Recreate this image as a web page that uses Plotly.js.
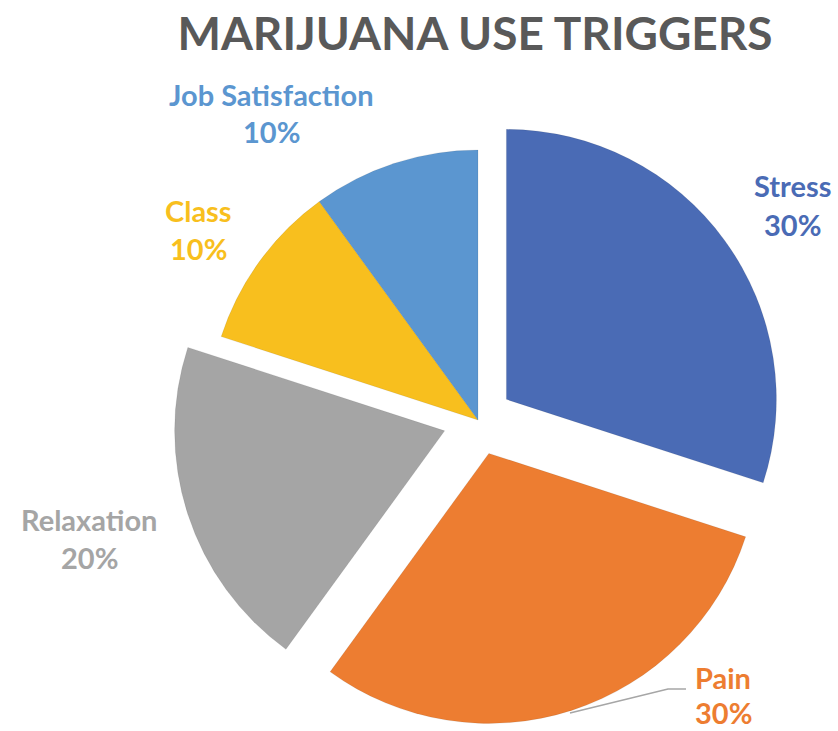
<!DOCTYPE html>
<html>
<head>
<meta charset="utf-8">
<script src="https://cdn.plot.ly/plotly-3.0.1.min.js"></script>
<style>html,body{margin:0;padding:0;background:#fff;}#chart{width:838px;height:731px;}</style>
</head>
<body>
<div id="chart"></div>
<script>
// Data
var categories = ["Stress", "Pain", "Relaxation", "Class", "Job Satisfaction"];
var values = [30, 30, 20, 10, 10];
var sliceColors = ["#4A6BB5", "#ED7D31", "#A5A5A5", "#F8BF1E", "#5B96D0"];
var labelColors = ["#4A6BB5", "#ED7D31", "#A5A5A5", "#F8BF1E", "#5B96D0"];
var pulls = [0.13, 0.13, 0.13, 0, 0];

// Layout helpers (pixel -> paper)
var W = 838, H = 731;
function px(x) { return x / W; }
function py(y) { return 1 - y / H; }

// Label centre positions in pixels: [x, name line y, percent line y]
var labelPos = [[792, 186, 224], [723, 677, 712], [89, 519, 557], [198, 210, 248], [271, 94, 132]];

var total = values.reduce(function (a, b) { return a + b; }, 0);
var annotations = [];
categories.forEach(function (c, i) {
  var pct = Math.round(values[i] / total * 100) + "%";
  var p = labelPos[i];
  [[c, p[1]], [pct, p[2]]].forEach(function (t) {
    annotations.push({
      text: "<b>" + t[0] + "</b>", xref: "paper", yref: "paper",
      x: px(p[0]), y: py(t[1]), xanchor: "center", yanchor: "middle",
      showarrow: false, borderpad: 0,
      font: { family: "Lato, 'Open Sans', sans-serif", size: 29, color: labelColors[i] }
    });
  });
});

// pie geometry: centre (478,420), radius 270
var cx = 478, cy = 420, r = 270, maxPull = 0.13;
var half = r * (1 + maxPull);

var trace = {
  type: "pie",
  labels: categories,
  values: values,
  marker: { colors: sliceColors, line: { color: "rgba(0,0,0,0.08)", width: 1 } },
  pull: pulls,
  sort: false,
  direction: "clockwise",
  rotation: 0,
  textinfo: "none",
  hoverinfo: "label+percent",
  showlegend: false,
  domain: { x: [px(cx - half), px(cx + half)], y: [py(cy + half), py(cy - half)] }
};

var layout = {
  width: W, height: H,
  margin: { l: 0, r: 0, t: 0, b: 0 },
  paper_bgcolor: "#fff",
  showlegend: false,
  title: {
    text: "<b>MARIJUANA USE TRIGGERS</b>",
    x: px(475), y: py(34), xref: "paper", yref: "container",
    xanchor: "center", yanchor: "middle",
    font: { family: "Lato, 'Open Sans', sans-serif", size: 46, color: "#595959" }
  },
  annotations: annotations,
  shapes: [{
    type: "path", xref: "paper", yref: "paper",
    path: "M " + px(570) + " " + py(713) + " L " + px(668) + " " + py(689) + " L " + px(686) + " " + py(689),
    line: { color: "#A6A6A6", width: 1.5 }
  }]
};

Plotly.newPlot("chart", [trace], layout, { displayModeBar: false, staticPlot: true });
</script>
</body>
</html>
